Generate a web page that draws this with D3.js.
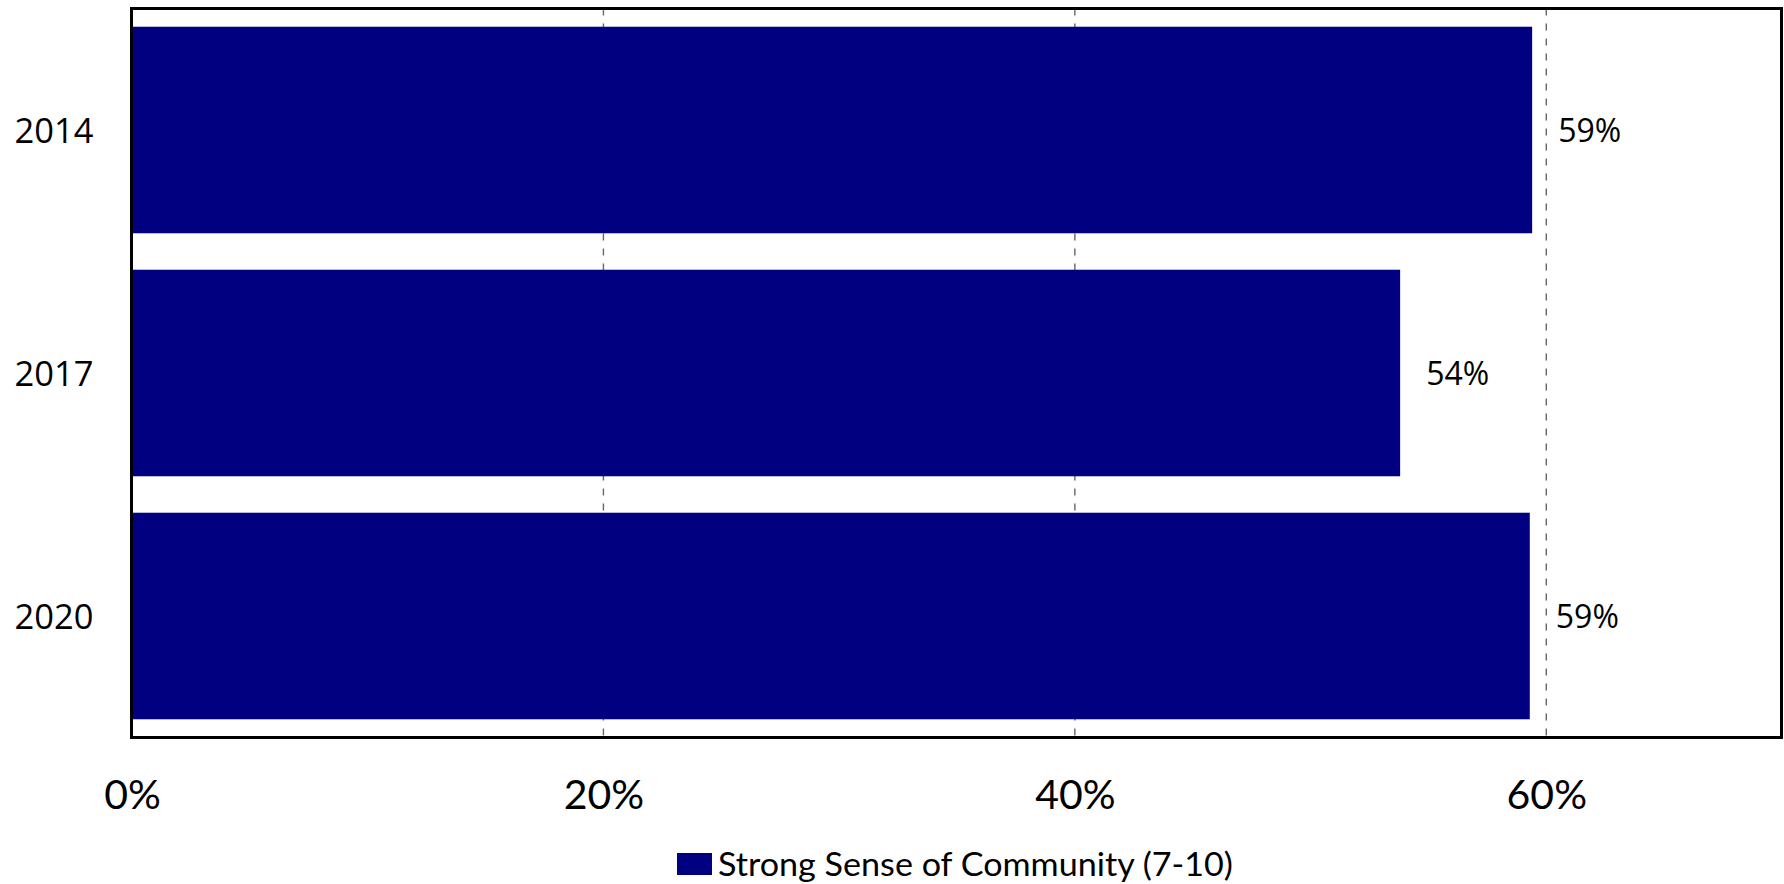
<!DOCTYPE html>
<html>
<head>
<meta charset="utf-8">
<script src="https://cdn.jsdelivr.net/npm/d3@7"></script>
<style>
html,body{margin:0;padding:0;background:#fff;}
svg{display:block;}
</style>
</head>
<body>
<svg id="chart" width="1784" height="884"></svg>
<script>
const categories = ["2014", "2017", "2020"];
const values = [59.4, 53.8, 59.3];
const valueLabels = ["59%", "54%", "59%"];
const xTicks = [0, 20, 40, 60];
const xTickLabels = ["0%", "20%", "40%", "60%"];
const seriesName = "Strong Sense of Community (7-10)";

const svg = d3.select("#chart");
const plot = {left: 131.5, right: 1781.5, top: 8.5, bottom: 737.5};

const x = d3.scaleLinear().domain([0, 70]).range([132, 1782]);
const y = d3.scaleBand().domain(categories).range([plot.top, plot.bottom])
  .paddingInner(0.15).paddingOuter(0.075);

// gridlines
svg.append("g").selectAll("line").data(xTicks.filter(d => d > 0)).join("line")
  .attr("x1", d => x(d)).attr("x2", d => x(d))
  .attr("y1", plot.top).attr("y2", plot.bottom)
  .attr("stroke", "#666").attr("stroke-width", 1.4)
  .attr("stroke-dasharray", "7,8");

// bars
svg.append("g").selectAll("rect").data(categories).join("rect")
  .attr("x", x(0))
  .attr("y", d => y(d))
  .attr("width", (d, i) => x(values[i]) - x(0))
  .attr("height", y.bandwidth())
  .attr("fill", "#000080");

// value labels
svg.append("g").selectAll("text").data(categories).join("text")
  .attr("x", (d, i) => x(values[i]) + 26)
  .attr("y", d => y(d) + y.bandwidth() / 2 + 12)
  .attr("font-family", "'Open Sans', sans-serif")
  .attr("font-size", 32)
  .attr("fill", "#000")
  .text((d, i) => valueLabels[i]);

// frame
svg.append("rect")
  .attr("x", plot.left).attr("y", plot.top)
  .attr("width", plot.right - plot.left).attr("height", plot.bottom - plot.top)
  .attr("fill", "none").attr("stroke", "#000").attr("stroke-width", 3);

// y axis labels
const yAxis = d3.axisLeft(y).tickSize(0).tickPadding(38);
const yg = svg.append("g").attr("transform", `translate(${plot.left},0)`).call(yAxis);
yg.select(".domain").remove();
yg.selectAll("text")
  .attr("font-family", "'Open Sans', sans-serif")
  .attr("font-size", 34.5)
  .attr("fill", "#000")
  .attr("dy", "0.37em");

// x axis labels
const xAxis = d3.axisBottom(x).tickValues(xTicks).tickSize(0).tickPadding(0)
  .tickFormat((d, i) => xTickLabels[i]);
const xg = svg.append("g").attr("transform", `translate(0,${plot.bottom})`).call(xAxis);
xg.select(".domain").remove();
xg.selectAll("text")
  .attr("font-family", "Lato, sans-serif")
  .attr("font-size", 41)
  .attr("fill", "#000")
  .attr("dy", 0)
  .attr("y", 71);

// legend
const lg = svg.append("g");
lg.append("rect").attr("x", 677).attr("y", 853).attr("width", 35).attr("height", 22).attr("fill", "#000080");
lg.append("text").attr("x", 718).attr("y", 876)
  .attr("font-family", "Lato, sans-serif")
  .attr("font-size", 32)
  .attr("fill", "#000")
  .attr("textLength", 515).attr("lengthAdjust", "spacingAndGlyphs")
  .text(seriesName);
</script>
</body>
</html>
